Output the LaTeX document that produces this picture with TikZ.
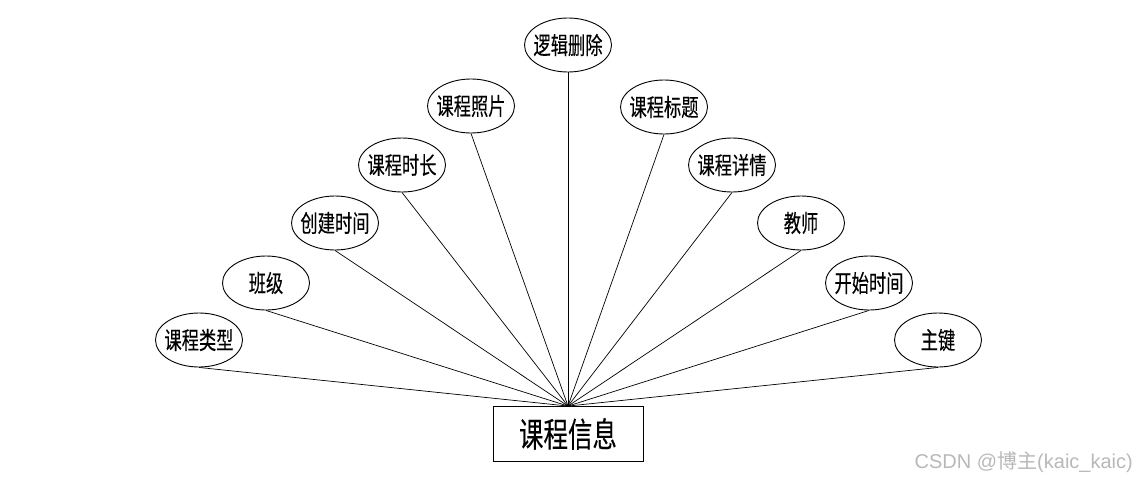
\documentclass[tikz,border=0pt]{standalone}
\usepackage{fontspec}
\setmainfont{Liberation Sans}
\newfontfamily\cjk[FakeStretch=0.72,FakeBold=0.2]{Noto Sans CJK SC}
\newfontfamily\cjkwm{Noto Sans CJK SC}
\usetikzlibrary{shapes.geometric}
\begin{document}
\begin{tikzpicture}[x=1pt,y=-1pt,
  attr/.style={draw=black,line width=0.9pt,ellipse,minimum width=87pt,minimum height=54pt,inner xsep=-8pt,inner ysep=0pt,font=\cjk\fontsize{24}{24}\selectfont},
  ent/.style={draw=black,line width=0.9pt,rectangle,minimum width=150pt,minimum height=55pt,inner sep=0pt,font=\cjk\fontsize{34}{34}\selectfont},
  link/.style={draw=black,line width=0.7pt}]
\useasboundingbox (0,0) rectangle (1137,482);
\node[ent] (main) at (568,434) {课程信息};
\node[attr] (a1) at (199,340) {课程类型};
\node[attr] (a2) at (266,283) {班级};
\node[attr] (a3) at (335,223) {创建时间};
\node[attr] (a4) at (402,165) {课程时长};
\node[attr] (a5) at (471,106) {课程照片};
\node[attr] (a6) at (568,45) {逻辑删除};
\node[attr] (a7) at (664,107) {课程标题};
\node[attr] (a8) at (732,165) {课程详情};
\node[attr] (a9) at (801,223) {教师};
\node[attr] (a10) at (869,283) {开始时间};
\node[attr] (a11) at (938,340) {主键};
\foreach \i in {1,...,11} {\draw[link] (main.north) -- (a\i.south);}
\node[anchor=base east,text=black!28,font=\fontsize{20}{20}\selectfont,inner sep=0pt] (wm) at (1133,468) {CSDN @{\cjkwm 博主}(kaic\_kaic)};
\end{tikzpicture}
\end{document}
